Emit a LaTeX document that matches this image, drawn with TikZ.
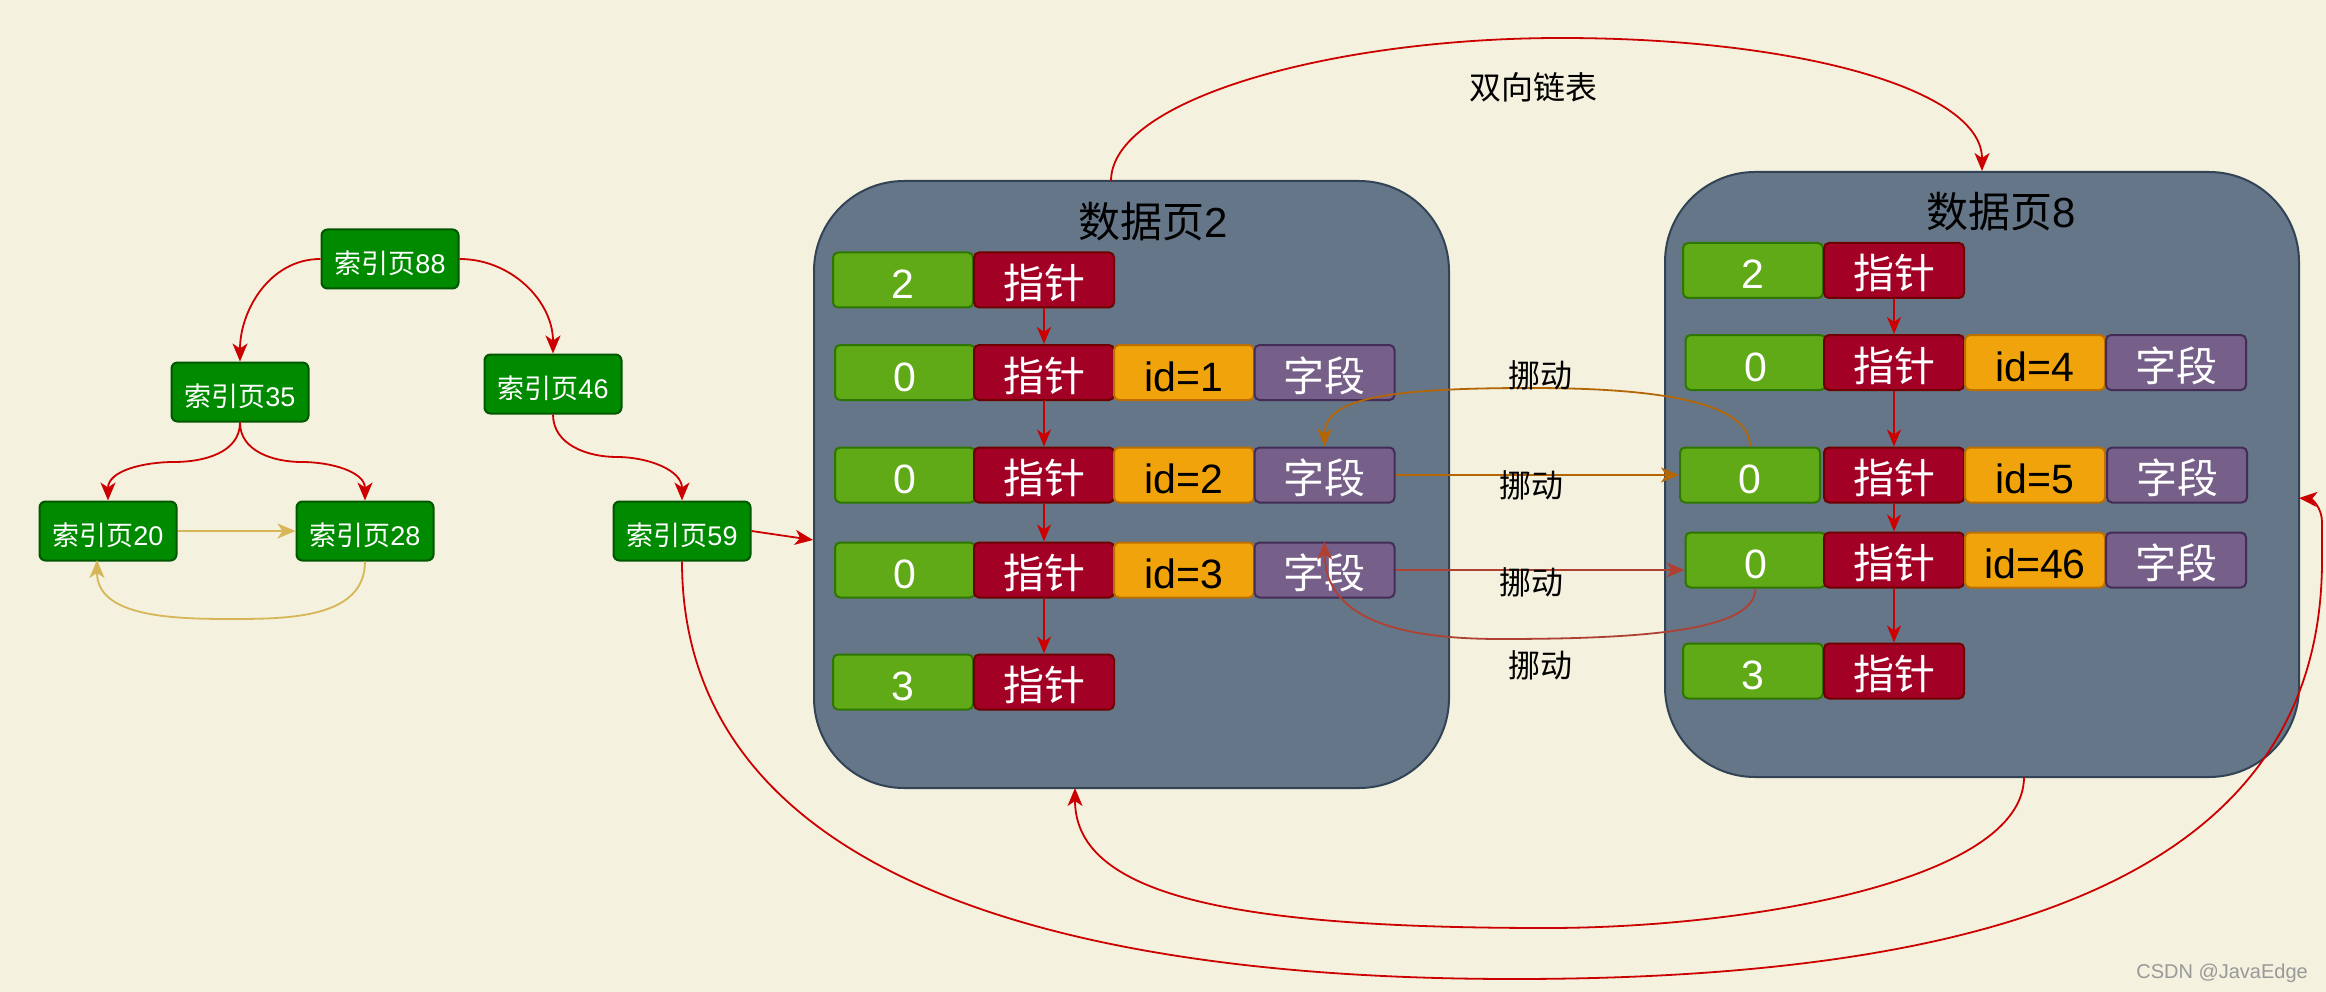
\documentclass[tikz,border=0pt]{standalone}
\usepackage{fontspec}
\setmainfont{Liberation Sans}
\newfontfamily\cjk{Noto Sans CJK SC}
\usetikzlibrary{arrows.meta}
\definecolor{bgc}{HTML}{F4F1DE}
\definecolor{idxfill}{HTML}{008A00}
\definecolor{idxline}{HTML}{005700}
\definecolor{gfill}{HTML}{60A917}
\definecolor{gline}{HTML}{2D7600}
\definecolor{rfill}{HTML}{A20025}
\definecolor{rline}{HTML}{6F0000}
\definecolor{ofill}{HTML}{F0A30A}
\definecolor{oline}{HTML}{BD7000}
\definecolor{pfill}{HTML}{76608A}
\definecolor{pline}{HTML}{432D57}
\definecolor{pagefill}{HTML}{647687}
\definecolor{pageline}{HTML}{314354}
\definecolor{linkred}{HTML}{CC0000}
\definecolor{linkyel}{HTML}{D6B656}
\definecolor{linkorg}{HTML}{B46504}
\definecolor{linkbrn}{HTML}{AE4132}
\newcommand{\fsz}[1]{\fontsize{#1pt}{#1pt}\selectfont}
\begin{document}
\begin{tikzpicture}[x=1pt,y=1pt,
  idx/.style={draw=idxline, fill=idxfill, line width=2pt, rounded corners=6pt, minimum width=137pt, minimum height=59pt, inner sep=0pt, text=white, font=\fsz{27}, text height=29pt, text depth=0pt},
  cell/.style={line width=2pt, rounded corners=5pt, minimum width=140pt, minimum height=55pt, inner sep=0pt, font=\fsz{41}, text height=37pt, text depth=0pt},
  gc/.style={cell, draw=gline, fill=gfill, text=white},
  rc/.style={cell, draw=rline, fill=rfill, text=white},
  oc/.style={cell, draw=oline, fill=ofill, text=black},
  pc/.style={cell, draw=pline, fill=pfill, text=white},
  page/.style={draw=pageline, fill=pagefill, line width=2pt, rounded corners=90pt, inner sep=0pt},
  ttl/.style={font=\fsz{42}, text=black, text height=32pt, text depth=0pt, inner sep=0pt},
  lbl/.style={font=\fsz{32}\cjk, text=black, text height=24pt, text depth=0pt, inner sep=0pt},
  mytip/.style={-{Stealth[length=18pt,width=15pt,inset=5pt]}},
  redln/.style={draw=linkred, line width=1.8pt, mytip},
  inarr/.style={draw=linkred, line width=1.6pt, -{Stealth[length=17pt,width=14pt,inset=5pt]}},
  yelln/.style={draw=linkyel, line width=1.8pt, mytip},
  orgln/.style={draw=linkorg, line width=1.8pt, mytip},
  brnln/.style={draw=linkbrn, line width=1.8pt, mytip}
]
\useasboundingbox (0,0) rectangle (2326,-992);
\fill[bgc] (0,0) rectangle (2326,-992);

% index pages
\node[idx] (n88) at (390,-259) {{\cjk 索引页}88};
\node[idx] (n35) at (240,-392) {{\cjk 索引页}35};
\node[idx] (n46) at (553,-384) {{\cjk 索引页}46};
\node[idx] (n20) at (108,-531) {{\cjk 索引页}20};
\node[idx] (n28) at (365,-531) {{\cjk 索引页}28};
\node[idx] (n59) at (682,-531) {{\cjk 索引页}59};
\coordinate (n20b) at (97,-560);

% data pages
\node[page, minimum width=635pt, minimum height=607pt] (dp2) at (1131.5,-484.5) {};
\node[page, minimum width=634pt, minimum height=605pt] (dp8) at (1982,-474.5) {};
\node[ttl] (t2) at (1153,-222) {{\cjk 数据页}2};
\node[ttl] (t8) at (2001,-212) {{\cjk 数据页}8};

% page 2 rows
\node[gc] (g21) at (903,-280) {2};
\node[rc] (r21) at (1044,-280) {\cjk 指针};
\node[gc] (g22) at (905,-372.5) {0};
\node[rc] (r22) at (1044,-372.5) {\cjk 指针};
\node[oc] (o22) at (1184,-372.5) {id=1};
\node[pc] (p22) at (1324.5,-372.5) {\cjk 字段};
\node[gc] (g23) at (905,-475) {0};
\node[rc] (r23) at (1044,-475) {\cjk 指针};
\node[oc] (o23) at (1184,-475) {id=2};
\node[pc] (p23) at (1324.5,-475) {\cjk 字段};
\node[gc] (g24) at (905,-570) {0};
\node[rc] (r24) at (1044,-570) {\cjk 指针};
\node[oc] (o24) at (1184,-570) {id=3};
\node[pc] (p24) at (1324.5,-570) {\cjk 字段};
\node[gc] (g25) at (903,-682) {3};
\node[rc] (r25) at (1044,-682) {\cjk 指针};

% page 8 rows
\node[gc] (g81) at (1753,-270.5) {2};
\node[rc] (r81) at (1894,-270.5) {\cjk 指针};
\node[gc] (g82) at (1755.5,-362.5) {0};
\node[rc] (r82) at (1894,-362.5) {\cjk 指针};
\node[oc] (o82) at (2035,-362.5) {id=4};
\node[pc] (p82) at (2176,-362.5) {\cjk 字段};
\node[gc] (g83) at (1750,-475) {0};
\node[rc] (r83) at (1894,-475) {\cjk 指针};
\node[oc] (o83) at (2035,-475) {id=5};
\node[pc] (p83) at (2177,-475) {\cjk 字段};
\node[gc] (g84) at (1755.5,-560) {0};
\node[rc] (r84) at (1894,-560) {\cjk 指针};
\node[oc] (o84) at (2035,-560) {id=46};
\node[pc] (p84) at (2176,-560) {\cjk 字段};
\node[gc] (g85) at (1753,-671) {3};
\node[rc] (r85) at (1894,-671) {\cjk 指针};

% pointer chains
\draw[inarr] (r21.south) -- (r22.north);
\draw[inarr] (r22.south) -- (r23.north);
\draw[inarr] (r23.south) -- (r24.north);
\draw[inarr] (r24.south) -- (r25.north);
\draw[inarr] (r81.south) -- (r82.north);
\draw[inarr] (r82.south) -- (r83.north);
\draw[inarr] (r83.south) -- (r84.north);
\draw[inarr] (r84.south) -- (r85.north);

% index tree links
\draw[redln] (n88.west) to[out=180,in=90] (n35.north);
\draw[redln] (n88.east) to[out=0,in=90] (n46.north);
\draw[redln] (n35.south) to[out=-90,in=0] (174,-462) to[out=180,in=90] (n20.north);
\draw[redln] (n35.south) to[out=-90,in=180] (302,-462) to[out=0,in=90] (n28.north);
\draw[redln] (n46.south) to[out=-90,in=180] (617,-457) to[out=0,in=90] (n59.north);
\draw[yelln] (n20.east) -- (n28.west);
\draw[yelln] (n28.south) to[out=-90,in=0] (231,-619) to[out=180,in=-90] (n20b);

% links to data pages
\coordinate (dp2in) at (813,-540);
\draw[redln] (n59.east) -- (dp2in);
\coordinate (dp8in) at (2299,-498);
\draw[redln] (n59.south) .. controls (682,-850) and (1000,-979) .. (1514,-979)
  .. controls (2050,-979) and (2322,-850) .. (2322,-560) -- (2322,-522)
  .. controls (2322,-508) and (2312,-499) .. (dp8in);
\coordinate (dp2top) at (1111,-181);
\draw[redln] (dp2top) .. controls (1111,-100) and (1330,-38) .. (1561,-38)
  .. controls (1800,-38) and (1982,-90) .. (dp8.north);
\coordinate (dp8bot) at (2024,-777);
\coordinate (dp2bot) at (1075,-788);
\draw[redln] (dp8bot) .. controls (2024,-880) and (1750,-928) .. (1547,-928)
  .. controls (1250,-928) and (1075,-900) .. (dp2bot);

% moves
\draw[orgln] (p23.east) -- (p23.east -| g83.west);
\draw[brnln] (p24.east) -- (p24.east -| g84.west);
\draw[orgln] (g83.north) .. controls (1750,-400) and (1650,-388) .. (1530,-388)
  .. controls (1380,-388) and (1325,-400) .. (p23.north);
\draw[brnln] (g84.south) .. controls (1755,-630) and (1650,-639) .. (1500,-639)
  .. controls (1380,-639) and (1325,-610) .. (p24.north);

% labels
\node[lbl] (sx) at (1533,-88) {双向链表};
\node[lbl] (m1) at (1540,-375) {挪动};
\node[lbl] (m2) at (1531,-485) {挪动};
\node[lbl] (m3) at (1531,-582) {挪动};
\node[lbl] (m4) at (1540,-665) {挪动};

\node[font=\fsz{20}, text=black!40, anchor=east, inner sep=0pt] (wm) at (2308,-973) {CSDN @JavaEdge};
\end{tikzpicture}
\end{document}
